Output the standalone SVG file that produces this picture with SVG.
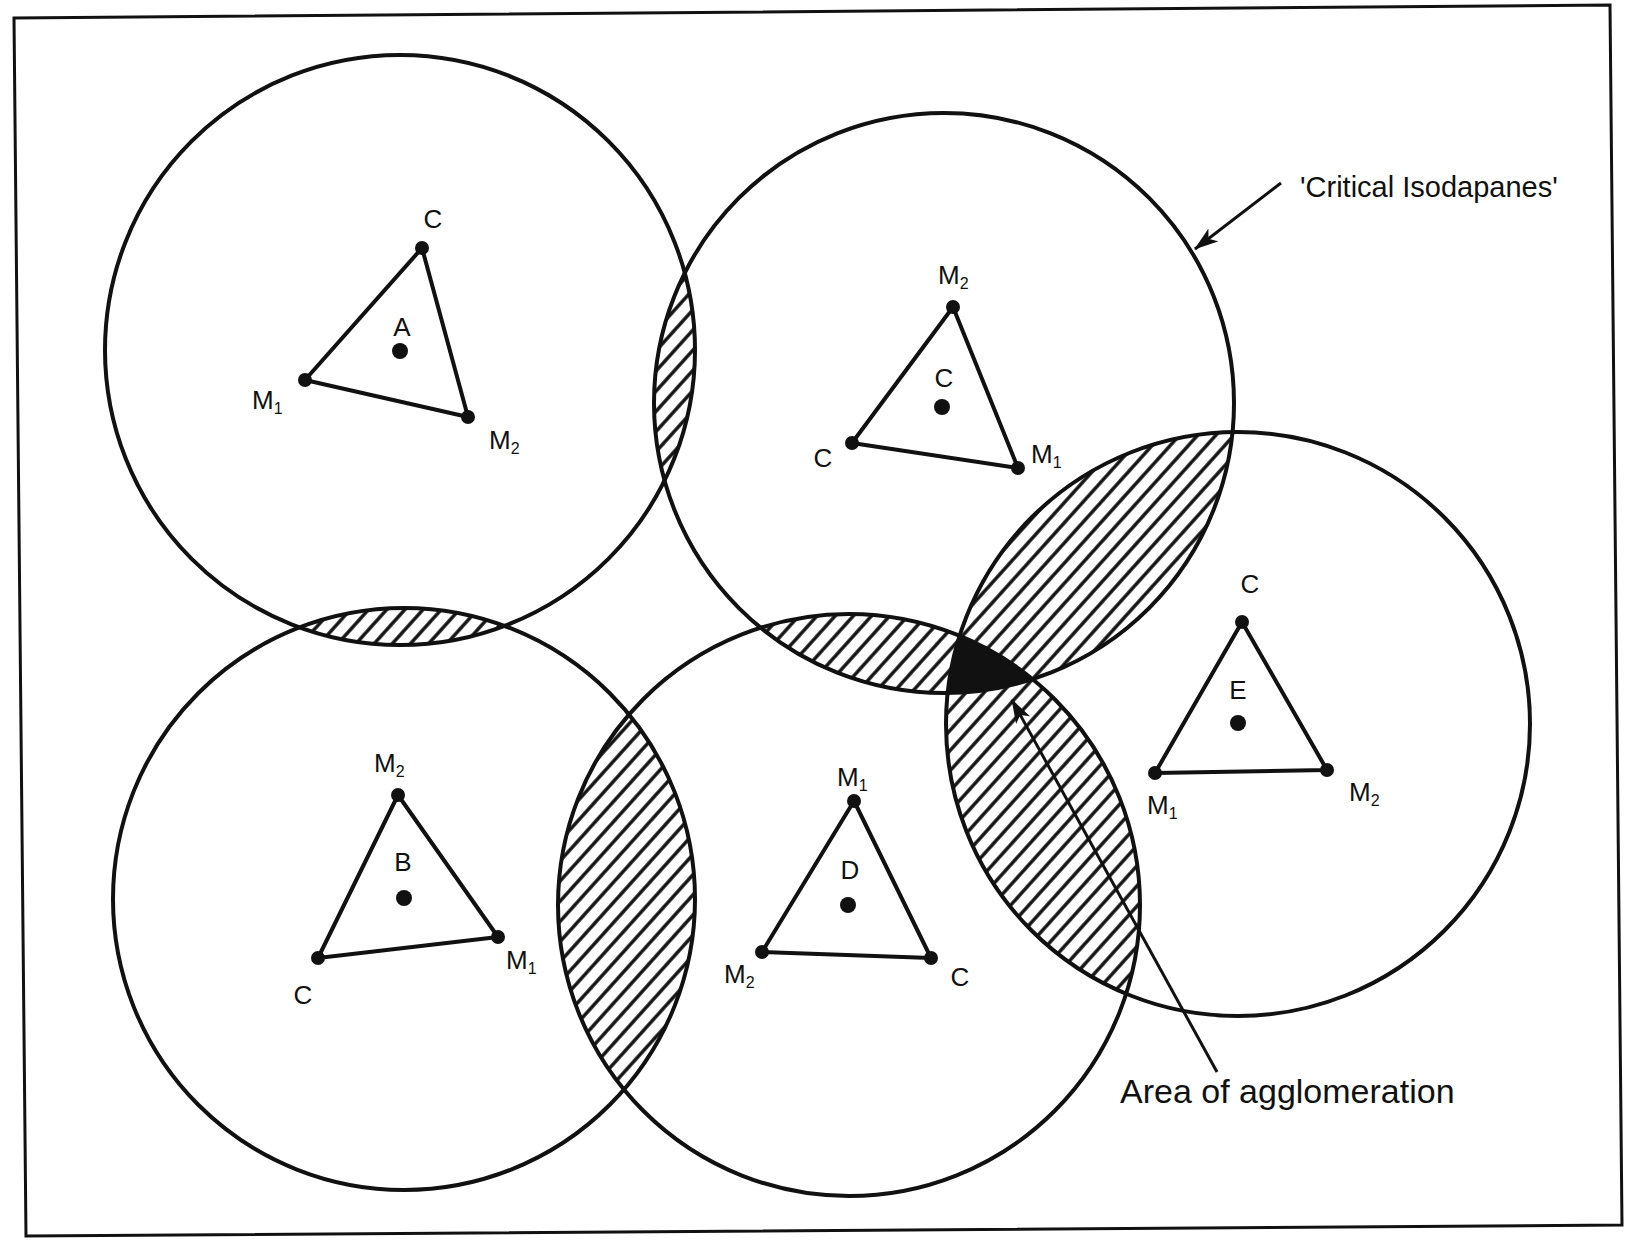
<svg xmlns="http://www.w3.org/2000/svg" width="1629" height="1240" viewBox="0 0 1629 1240">
<style>
  .ring { fill: none; stroke: #111; stroke-width: 4; }
  .tri { fill: none; stroke: #111; stroke-width: 4; stroke-linejoin: round; }
  .v { fill: #111; }
  .lbl { font-family: "Liberation Sans", Arial, sans-serif; font-size: 26px; fill: #111; }
  .note { font-family: "Liberation Sans", Arial, sans-serif; fill: #111; }
  .conn { stroke: #111; stroke-width: 3; fill: none; }
</style>
<defs>
  <pattern id="hatch" patternUnits="userSpaceOnUse" width="13.5" height="13.5" patternTransform="rotate(-48)">
    <rect width="13.5" height="13.5" fill="#fff"/>
    <line x1="0" y1="6.75" x2="13.5" y2="6.75" stroke="#111" stroke-width="3.4"/>
  </pattern>
  <clipPath id="clipA"><circle cx="400" cy="350" r="295"/></clipPath>
  <clipPath id="clipB"><circle cx="404" cy="899" r="291"/></clipPath>
  <clipPath id="clipC"><circle cx="944" cy="403" r="290"/></clipPath>
  <clipPath id="clipD"><circle cx="849" cy="905" r="291"/></clipPath>
  <marker id="arr" viewBox="0 0 24 16" markerWidth="24" markerHeight="16" refX="23" refY="8" orient="auto" markerUnits="userSpaceOnUse">
    <path d="M0,0 L24,8 L0,16 L6,8 Z" fill="#111"/>
  </marker>
</defs>
<rect width="1629" height="1240" fill="#fff"/>
<polygon points="14,18 1610,5 1622,1225 26,1236" fill="none" stroke="#111" stroke-width="3"/>

<g id="overlaps">
  <g clip-path="url(#clipA)"><circle cx="944" cy="403" r="290" fill="url(#hatch)"/></g>
  <g clip-path="url(#clipA)"><circle cx="404" cy="899" r="291" fill="url(#hatch)"/></g>
  <g clip-path="url(#clipC)"><circle cx="849" cy="905" r="291" fill="url(#hatch)"/></g>
  <g clip-path="url(#clipC)"><circle cx="1238" cy="724" r="292" fill="url(#hatch)"/></g>
  <g clip-path="url(#clipB)"><circle cx="849" cy="905" r="291" fill="url(#hatch)"/></g>
  <g clip-path="url(#clipD)"><circle cx="1238" cy="724" r="292" fill="url(#hatch)"/></g>
  <g clip-path="url(#clipC)"><g clip-path="url(#clipD)"><circle cx="1238" cy="724" r="292" fill="#111"/></g></g>
</g>

<g id="node-A">
  <circle class="ring" cx="400" cy="350" r="295"/>
  <polygon class="tri" points="422,248 305,380 468,417"/>
  <circle class="v" cx="422" cy="248" r="7"/><circle class="v" cx="305" cy="380" r="7"/><circle class="v" cx="468" cy="417" r="7"/>
  <circle class="v" cx="400" cy="351" r="8"/>
  <text class="lbl" x="433" y="228" text-anchor="middle">C</text>
  <text class="lbl" x="402" y="336" text-anchor="middle">A</text>
  <text class="lbl" x="252" y="409">M<tspan font-size="16" dy="5">1</tspan></text>
  <text class="lbl" x="489" y="449">M<tspan font-size="16" dy="5">2</tspan></text>
</g>

<g id="node-C">
  <circle class="ring" cx="944" cy="403" r="290"/>
  <polygon class="tri" points="953,307 852,443 1018,468"/>
  <circle class="v" cx="953" cy="307" r="7"/><circle class="v" cx="852" cy="443" r="7"/><circle class="v" cx="1018" cy="468" r="7"/>
  <circle class="v" cx="942" cy="407" r="8"/>
  <text class="lbl" x="938" y="284">M<tspan font-size="16" dy="5">2</tspan></text>
  <text class="lbl" x="944" y="387" text-anchor="middle">C</text>
  <text class="lbl" x="823" y="467" text-anchor="middle">C</text>
  <text class="lbl" x="1031" y="463">M<tspan font-size="16" dy="5">1</tspan></text>
</g>

<g id="node-B">
  <circle class="ring" cx="404" cy="899" r="291"/>
  <polygon class="tri" points="398,795 318,958 498,937"/>
  <circle class="v" cx="398" cy="795" r="7"/><circle class="v" cx="318" cy="958" r="7"/><circle class="v" cx="498" cy="937" r="7"/>
  <circle class="v" cx="404" cy="898" r="8"/>
  <text class="lbl" x="374" y="772">M<tspan font-size="16" dy="5">2</tspan></text>
  <text class="lbl" x="403" y="871" text-anchor="middle">B</text>
  <text class="lbl" x="506" y="969">M<tspan font-size="16" dy="5">1</tspan></text>
  <text class="lbl" x="303" y="1004" text-anchor="middle">C</text>
</g>

<g id="node-D">
  <circle class="ring" cx="849" cy="905" r="291"/>
  <polygon class="tri" points="854,801 762,952 931,958"/>
  <circle class="v" cx="854" cy="801" r="7"/><circle class="v" cx="762" cy="952" r="7"/><circle class="v" cx="931" cy="958" r="7"/>
  <circle class="v" cx="848" cy="905" r="8"/>
  <text class="lbl" x="837" y="786">M<tspan font-size="16" dy="5">1</tspan></text>
  <text class="lbl" x="850" y="879" text-anchor="middle">D</text>
  <text class="lbl" x="724" y="983">M<tspan font-size="16" dy="5">2</tspan></text>
  <text class="lbl" x="960" y="986" text-anchor="middle">C</text>
</g>

<g id="node-E">
  <circle class="ring" cx="1238" cy="724" r="292"/>
  <polygon class="tri" points="1242,622 1155,773 1327,770"/>
  <circle class="v" cx="1242" cy="622" r="7"/><circle class="v" cx="1155" cy="773" r="7"/><circle class="v" cx="1327" cy="770" r="7"/>
  <circle class="v" cx="1238" cy="723" r="8"/>
  <text class="lbl" x="1250" y="593" text-anchor="middle">C</text>
  <text class="lbl" x="1238" y="699" text-anchor="middle">E</text>
  <text class="lbl" x="1147" y="814">M<tspan font-size="16" dy="5">1</tspan></text>
  <text class="lbl" x="1349" y="801">M<tspan font-size="16" dy="5">2</tspan></text>
</g>

<g id="connectors">
  <line class="conn" x1="1281" y1="183" x2="1195" y2="249" marker-end="url(#arr)"/>
  <line class="conn" x1="1217" y1="1072" x2="1012" y2="700" marker-end="url(#arr)"/>
</g>

<g id="notes">
  <text class="note" x="1300" y="197" font-size="29">'Critical Isodapanes'</text>
  <text class="note" x="1120" y="1103" font-size="34">Area of agglomeration</text>
</g>
</svg>
